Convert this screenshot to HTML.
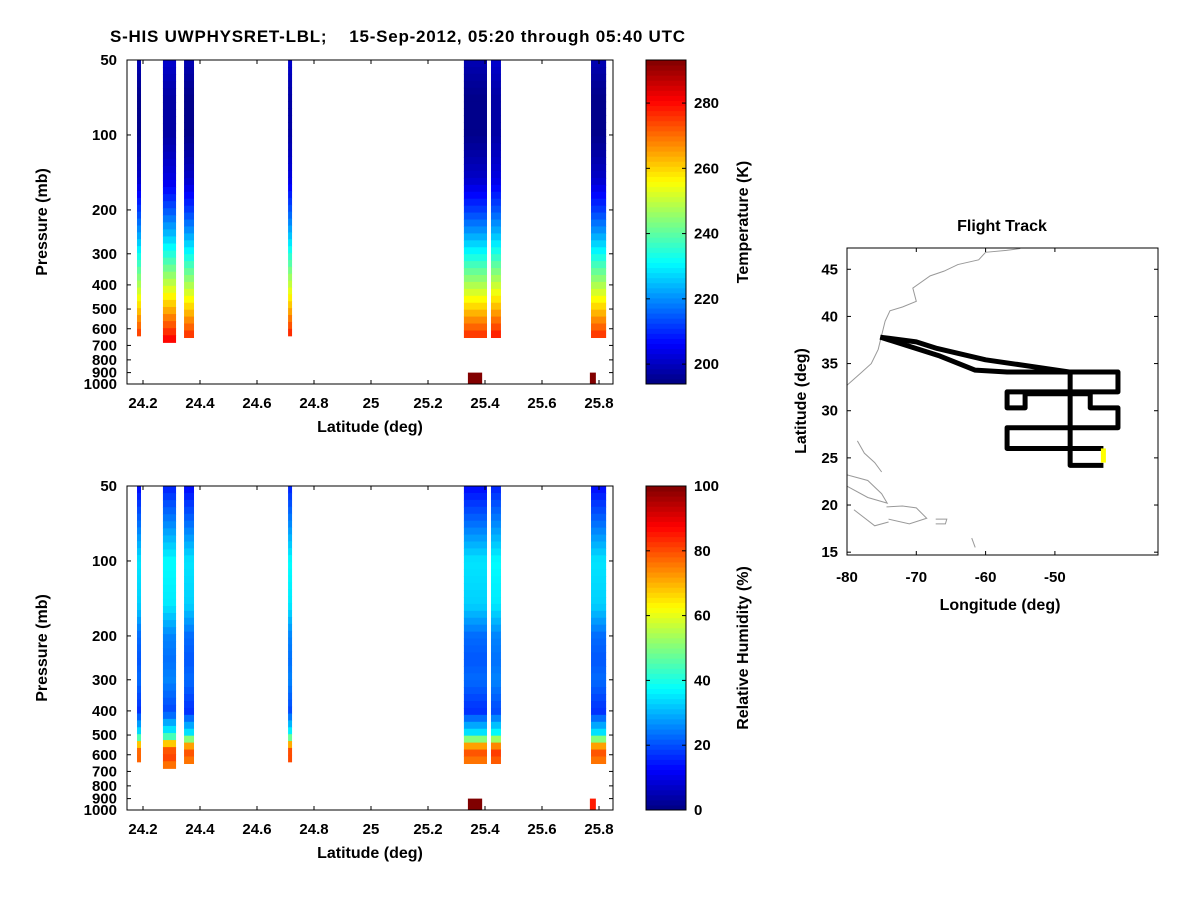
<!DOCTYPE html>
<html><head><meta charset="utf-8"><style>
body{margin:0;background:#fff;font-family:"Liberation Sans",Arial,sans-serif}
svg text{font-family:"Liberation Sans",Arial,sans-serif;font-weight:bold;fill:#000}
</style></head><body>
<svg id="s" width="1200" height="900" xmlns="http://www.w3.org/2000/svg">
<text x="110" y="42" font-size="17" textLength="575" lengthAdjust="spacing" xml:space="preserve">S-HIS UWPHYSRET-LBL;    15-Sep-2012, 05:20 through 05:40 UTC</text>
</svg>
<script>
// ---- data ----
const columnLatStart=[24.179,24.27,24.344,24.709,25.326,25.421,25.772];
const columnLatEnd=[24.193,24.316,24.379,24.723,25.407,25.456,25.825];
const columnBottomP=[640,680,650,640,650,650,650];
const profilePressure=[50,70,100,150,200,250,300,400,500,550,600,650,700];
const tempProfile=[200,196,196,202,213,223,233,249,262,268,273,278,282];
const rhProfile=[14,24,36,34,24,22,24,18,38,72,82,74,80];
const surfaceLat=[25.34,25.768];
const surfaceLatEnd=[25.39,25.789];
const surfaceTemp=[293,293];
const surfaceRH=[100,85];
const latTicks=[24.2,24.4,24.6,24.8,25,25.2,25.4,25.6,25.8];
const pTicks=[50,100,200,300,400,500,600,700,800,900,1000];
const tempTicks=[200,220,240,260,280];
const rhTicks=[0,20,40,60,80,100];
const trackLon=[-75.2,-70,-67,-60,-47.8,-40.9,-40.9,-56.9,-56.9,-54.3,-54.3,-44.9,-44.9,-40.9,-40.9,-56.9,-56.9,-43.0];
const trackLat=[37.8,37.3,36.6,35.4,34.1,34.1,32.0,32.0,30.3,30.3,31.8,31.8,30.3,30.3,28.2,28.2,26.0,26.0];
const track2Lon=[-75.2,-66.6,-61.5,-56.9,-47.8,-47.8,-43.0];
const track2Lat=[37.8,35.8,34.3,34.1,34.1,24.2,24.2];
const coastLon=[-80,-78,-76.5,-75.5,-75,-74.5,-73.8,-72,-70,-70.5,-68,-66,-64,-61,-60,-57,-55];
const coastLat=[32.7,34,35,36.5,38,39.5,40.6,41,41.6,43,44.3,44.8,45.5,46,46.8,47,47.2];
const islands=[
 [[-80,-77,-75,-74.2,-77,-80],[23.2,22.6,21.2,20.2,20.8,22]],
 [[-74.3,-72,-70,-68.5,-71,-74],[19.8,19.9,19.7,18.6,18,18.5]],
 [[-67.2,-65.6,-65.8,-67.2],[18.5,18.5,18,18]],
 [[-78.5,-77.5,-76,-75],[26.8,25.5,24.5,23.5]],
 [[-80,-80,-80.2],[27,25.2,25]],
 [[-79,-76,-74],[19.5,17.8,18.2]],
 [[-62,-61.5],[16.5,15.5]]
];
// ---- helpers ----
const S=document.getElementById('s'),NS='http://www.w3.org/2000/svg';
function el(t,a,p){const e=document.createElementNS(NS,t);for(const k in a)e.setAttribute(k,a[k]);(p||S).appendChild(e);return e;}
function jet(v){v=Math.max(0,Math.min(1,v));const f=x=>Math.round(255*Math.max(0,Math.min(1,1.5-Math.abs(4*v-x))));return `rgb(${f(3)},${f(2)},${f(1)})`;}
function interp(p,arr){const lp=Math.log(p);for(let i=0;i<profilePressure.length-1;i++){const a=Math.log(profilePressure[i]),b=Math.log(profilePressure[i+1]);if(lp<=b)return arr[i]+(arr[i+1]-arr[i])*(lp-a)/(b-a);}return arr[arr.length-1];}
function drawPanel(top,vals,vmin,vmax,surfVals,cbTicks,cbLabel,name){
 const L=127,R=613,T=top,B=top+324;
 const X=v=>143+(v-24.2)*285;
 const Y=p=>T+Math.log10(p/50)/Math.log10(20)*(B-T);
 const g=el('g',{});
 
 for(let c=0;c<columnLatStart.length;c++){
  const x0=X(columnLatStart[c]),x1=X(columnLatEnd[c]);
  const pb=columnBottomP[c];const n=40;
  for(let k=0;k<n;k++){
   const p0=50*Math.pow(pb/50,k/n),p1=50*Math.pow(pb/50,(k+1)/n);
   const v=interp(Math.sqrt(p0*p1),vals)+(c%2?1.5:-1);
   const r=el('rect',{x:x0,y:Y(p0),width:x1-x0,height:Y(p1)-Y(p0)+0.6,fill:jet((v-vmin)/(vmax-vmin))},g);
   
  }
 }
 for(let i=0;i<surfaceLat.length;i++){
  const r=el('rect',{x:X(surfaceLat[i]),y:Y(900),width:X(surfaceLatEnd[i])-X(surfaceLat[i]),height:Y(1000)-Y(900),fill:jet((surfVals[i]-vmin)/(vmax-vmin))},g);
  
 }
 el('rect',{x:L,y:T,width:R-L,height:B-T,fill:'none',stroke:'#000','stroke-width':1},g);
 latTicks.forEach(t=>{const x=X(t);el('line',{x1:x,x2:x,y1:B,y2:B-4,stroke:'#000'},g);el('line',{x1:x,x2:x,y1:T,y2:T+4,stroke:'#000'},g);
  const tx=el('text',{x:x,y:B+24,'font-size':15,'text-anchor':'middle'},g);tx.textContent=t;});
 pTicks.forEach(t=>{const y=Y(t);el('line',{x1:L,x2:L+4,y1:y,y2:y,stroke:'#000'},g);el('line',{x1:R,x2:R-4,y1:y,y2:y,stroke:'#000'},g);
  const tx=el('text',{x:L-10,y:y+5,'font-size':15,'text-anchor':'end'},g);tx.textContent=t;});
 const xl=el('text',{x:370,y:B+48,'font-size':16,'text-anchor':'middle'},g);xl.textContent='Latitude (deg)';
 
 const yl=el('text',{x:47,y:(T+B)/2,'font-size':16,'text-anchor':'middle',transform:`rotate(-90 47 ${(T+B)/2})`},g);yl.textContent='Pressure (mb)';
 
 const cL=646,cR=686;const cmin=name==='temperature'?193.9:0,cmax=name==='temperature'?293.2:100;
 const CY=v=>B-(v-cmin)/(cmax-cmin)*(B-T);
 for(let k=0;k<64;k++){const v0=cmin+(cmax-cmin)*k/64,v1=cmin+(cmax-cmin)*(k+1)/64;
  el('rect',{x:cL,y:CY(v1),width:cR-cL,height:CY(v0)-CY(v1)+0.5,fill:jet((k+0.5)/64)},g);}
 el('rect',{x:cL,y:T,width:cR-cL,height:B-T,fill:'none',stroke:'#000'},g);
 cbTicks.forEach(t=>{const y=CY(t);el('line',{x1:cR,x2:cR-4,y1:y,y2:y,stroke:'#000'},g);el('line',{x1:cL,x2:cL+4,y1:y,y2:y,stroke:'#000'},g);
  const tx=el('text',{x:cR+8,y:y+5,'font-size':15},g);tx.textContent=t;});
 const cl=el('text',{x:748,y:(T+B)/2,'font-size':16,'text-anchor':'middle',transform:`rotate(-90 748 ${(T+B)/2})`},g);cl.textContent=cbLabel;
 
}
drawPanel(60,tempProfile,193.9,293.2,surfaceTemp,tempTicks,'Temperature (K)','temperature');
drawPanel(486,rhProfile,0,100,surfaceRH,rhTicks,'Relative Humidity (%)','humidity');
// ---- flight track ----
const fL=847,fR=1158,fT=248,fB=555;
const LX=v=>fL+(v+80)*6.93, LY=v=>fB-(v-14.7)*9.43;
const fg=el('g',{});
el('defs',{},fg).innerHTML=`<clipPath id="fc"><rect x="${fL}" y="${fT}" width="${fR-fL}" height="${fB-fT}"/></clipPath>`;
const cg=el('g',{'clip-path':'url(#fc)'},fg);
const pl=(lo,la,a)=>el('polyline',Object.assign({points:lo.map((v,i)=>LX(v)+','+LY(la[i])).join(' '),fill:'none'},a),cg);
pl(coastLon,coastLat,{stroke:'#999','stroke-width':1});
islands.forEach(is=>pl(is[0],is[1],{stroke:'#999','stroke-width':1}));
const t1=pl(trackLon,trackLat,{stroke:'#000','stroke-width':5,'stroke-linejoin':'round'});

pl(track2Lon,track2Lat,{stroke:'#000','stroke-width':5,'stroke-linejoin':'round'});
pl([-43.0,-43.0],[24.5,26],{stroke:'#ff0','stroke-width':5});
el('rect',{x:fL,y:fT,width:fR-fL,height:fB-fT,fill:'none',stroke:'#000'},fg);
[-80,-70,-60,-50].forEach(t=>{const x=LX(t);el('line',{x1:x,x2:x,y1:fB,y2:fB-4,stroke:'#000'},fg);el('line',{x1:x,x2:x,y1:fT,y2:fT+4,stroke:'#000'},fg);
 const tx=el('text',{x:x,y:fB+27,'font-size':15,'text-anchor':'middle'},fg);tx.textContent=t;});
[15,20,25,30,35,40,45].forEach(t=>{const y=LY(t);el('line',{x1:fL,x2:fL+4,y1:y,y2:y,stroke:'#000'},fg);el('line',{x1:fR,x2:fR-4,y1:y,y2:y,stroke:'#000'},fg);
 const tx=el('text',{x:fL-9,y:y+5,'font-size':15,'text-anchor':'end'},fg);tx.textContent=t;});
const ft=el('text',{x:1002,y:231,'font-size':16,'text-anchor':'middle'},fg);ft.textContent='Flight Track';

const fx=el('text',{x:1000,y:610,'font-size':16,'text-anchor':'middle'},fg);fx.textContent='Longitude (deg)';

const fy=el('text',{x:806,y:401,'font-size':16,'text-anchor':'middle',transform:'rotate(-90 806 401)'},fg);fy.textContent='Latitude (deg)';

</script>
</body></html>
